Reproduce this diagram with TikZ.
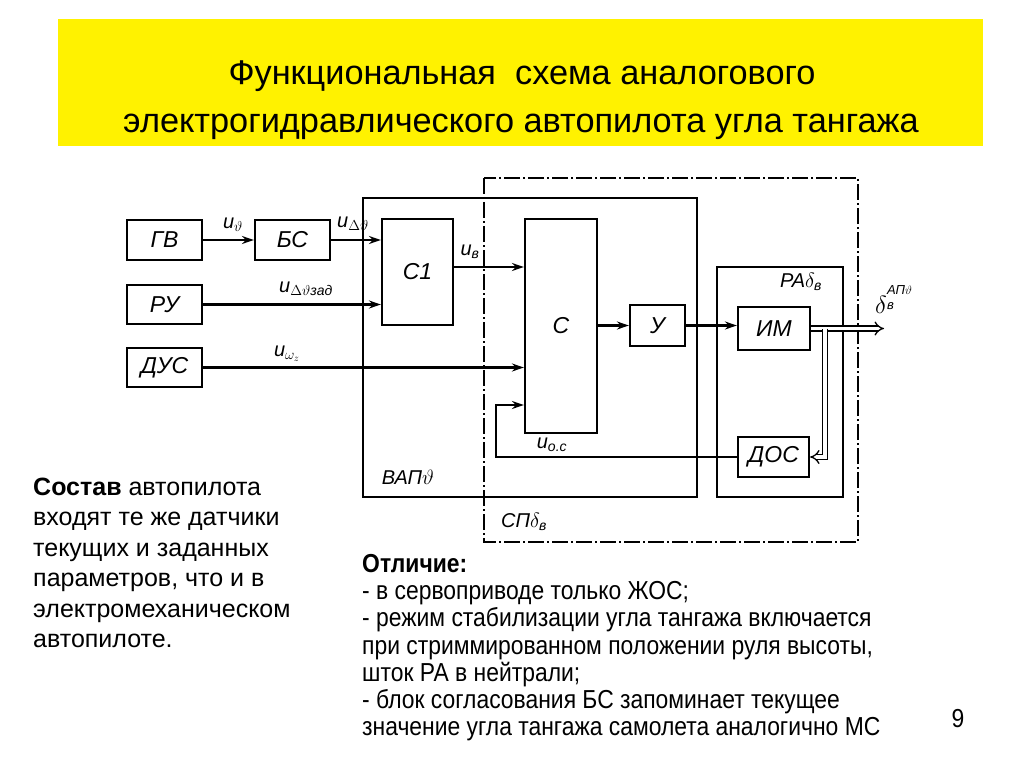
\documentclass[tikz,border=0pt]{standalone}
\usepackage{amsmath}
\usepackage{fontspec}
\setmainfont{Liberation Sans}
\newfontfamily\narrowfont[FakeStretch=0.88]{Liberation Sans}
\usetikzlibrary{arrows.meta}
\newcommand\myit[1]{\text{\itshape #1}}
\begin{document}
\begin{tikzpicture}[x=1pt,y=-1pt,
  blk/.style={draw, line width=2.2pt, inner sep=0pt, font=\itshape\fontsize{23}{23}\selectfont},
  frame/.style={draw, line width=1.4pt},
  dashframe/.style={draw, line width=1.4pt, dash pattern=on 16pt off 3pt on 2pt off 3pt},
  sig/.style={line width=2.4pt, -{Stealth[length=12pt,width=8pt]}},
  lbl/.style={font=\itshape\fontsize{20}{20}\selectfont, inner sep=0pt},
  sml/.style={font=\itshape\fontsize{13}{13}\selectfont, inner sep=0pt},
  mech/.style={double, double distance=3.5pt, line width=1.3pt},
  ttl/.style={anchor=base, inner sep=0pt, font=\fontsize{34.3}{34.3}\selectfont},
  ltxt/.style={anchor=base west, inner sep=0pt, font=\fontsize{25}{25}\selectfont},
  rtxt/.style={anchor=base west, inner sep=0pt, font=\narrowfont\fontsize{26}{26}\selectfont}
]
\useasboundingbox (0,0) rectangle (1024,767);
\fill[white] (0,0) rectangle (1024,767);
% title
\fill[yellow] (58,19) rectangle (983,146);
\node[ttl] (t1) at (522,85) {Функциональная\ \ схема аналогового};
\node[ttl] (t2) at (521,133) {электрогидравлического автопилота угла тангажа};

% frames
\draw[dashframe] (484,178) rectangle (858,542);
\draw[frame] (363,198) rectangle (697,497);
\draw[frame] (717,267) rectangle (843,497);

% blocks
\node[blk, minimum width=75pt, minimum height=40pt] (gv) at (164.5,240) {ГВ};
\node[blk, minimum width=75pt, minimum height=40pt] (bs) at (292.5,240) {БС};
\node[blk, minimum width=75pt, minimum height=39pt] (ru) at (164.5,304.5) {РУ};
\node[blk, minimum width=75pt, minimum height=39pt] (dus) at (164.5,367.5) {ДУС};
\node[blk, minimum width=71pt, minimum height=106pt] (c1) at (417.5,272) {С1};
\node[blk, minimum width=72pt, minimum height=214pt] (c) at (561,326) {С};
\node[blk, minimum width=55pt, minimum height=41pt] (u) at (657.5,325.5) {У};
\node[blk, minimum width=72pt, minimum height=43pt] (im) at (774,328.5) {ИМ};
\node[blk, minimum width=71pt, minimum height=40pt] (dos) at (773.5,457) {ДОС};

% level coordinates
\coordinate (yub) at (0,267);
\coordinate (fbx) at (496,405);
\coordinate (out) at (884,328.5);
\coordinate (br) at (825,328.5);

% signal arrows
\draw[sig] (gv) -- (bs);
\draw[sig] (bs.east) -- (bs.east -| c1.west);
\draw[sig] (ru.east) -- (ru.east -| c1.west);
\draw[sig] (dus.east) -- (dus.east -| c.west);
\draw[sig] (c1.east |- yub) -- (c.west |- yub);
\draw[sig] (c.east |- u.west) -- (u.west);
\draw[sig] (u.east) -- (u.east -| im.west);
\draw[sig] (dos.west) -| (fbx) -- (fbx -| c.west);

% mechanical links
\draw[mech, -{Implies}] (im.east) -- (out);
\draw[mech, -{Implies}] (br) -- (br |- dos.east) -- (dos.east);

% signal labels
\node[lbl] (l1) at (233,225) {$\myit{u}_{\vartheta}$};
\node[lbl] (l2) at (353,224) {$\myit{u}_{\Delta\vartheta}$};
\node[lbl] (l3) at (306,289) {$\myit{u}_{\Delta\vartheta\myit{зад}}$};
\node[lbl] (l4) at (287,354) {$\myit{u}_{\omega_z}$};
\node[lbl] (l5) at (470,252) {$\myit{u}_{\myit{в}}$};
\node[lbl] (l6) at (552,445) {$\myit{u}_{\myit{о.с}}$};
\node[lbl] (l7) at (801,282) {$\myit{РА}\delta_{\myit{в}}$};
\node[font=\fontsize{27}{27}\selectfont, inner sep=0pt, anchor=east] (l8) at (887,305) {$\delta$};
\node[sml, anchor=south west] (l8a) at (887,295) {АП$\vartheta$};
\node[sml, anchor=north west] (l8b) at (887,302) {в};
\node[lbl] (l9) at (408,477) {$\myit{ВАП}\vartheta$};
\node[lbl] (l10) at (524,522) {$\myit{СП}\delta_{\myit{в}}$};

% left text
\node[ltxt] (a1) at (33,495) {\textbf{Состав} автопилота};
\node[ltxt] (a2) at (33,525.5) {входят те же датчики};
\node[ltxt] (a3) at (33,556) {текущих и заданных};
\node[ltxt] (a4) at (33,586.5) {параметров, что и в};
\node[ltxt] (a5) at (33,617) {электромеханическом};
\node[ltxt] (a6) at (33,647.5) {автопилоте.};

% right text
\node[rtxt] (b1) at (362,572) {\textbf{Отличие:}};
\node[rtxt] (b2) at (362,599.5) {- в сервоприводе только ЖОС;};
\node[rtxt] (b3) at (362,626.5) {- режим стабилизации угла тангажа включается};
\node[rtxt] (b4) at (362,654) {при стриммированном положении руля высоты,};
\node[rtxt] (b5) at (362,681) {шток РА в нейтрали;};
\node[rtxt] (b6) at (362,708) {- блок согласования БС запоминает текущее};
\node[rtxt] (b7) at (362,735) {значение угла тангажа самолета аналогично МС};

\node[anchor=base, inner sep=0pt, font=\narrowfont\fontsize{26}{26}\selectfont] (pg) at (958,727) {9};
\end{tikzpicture}
\end{document}
